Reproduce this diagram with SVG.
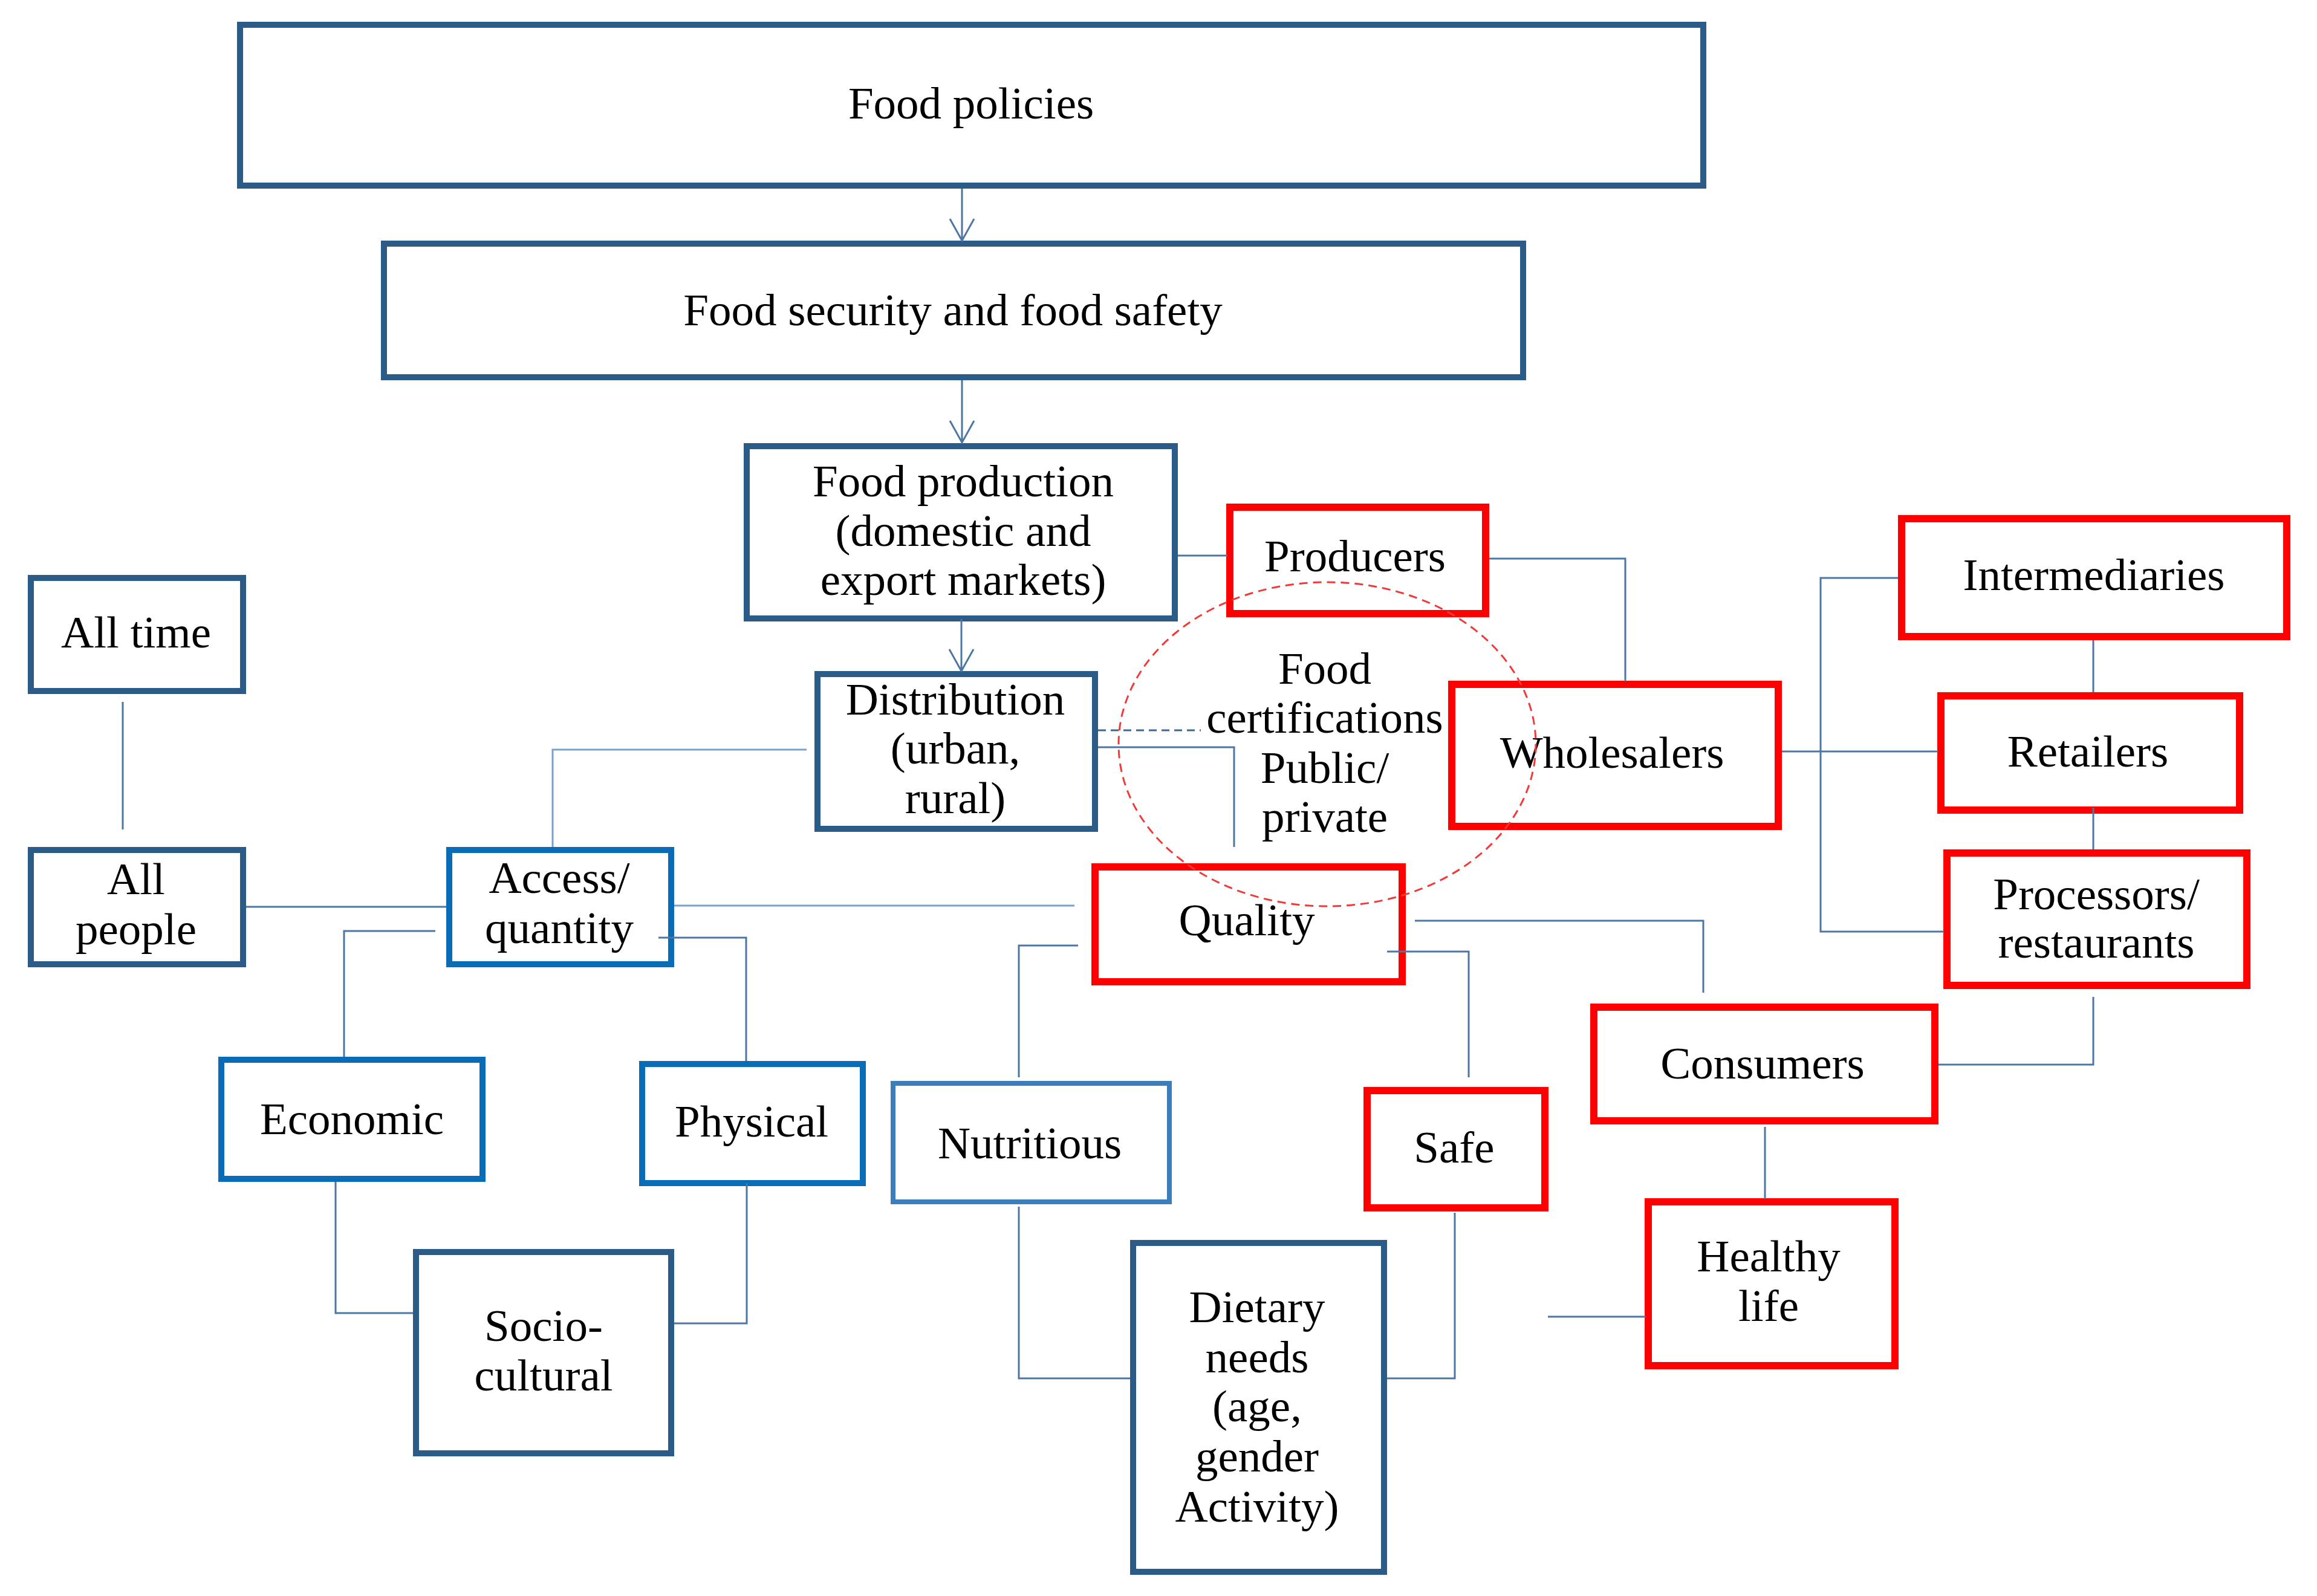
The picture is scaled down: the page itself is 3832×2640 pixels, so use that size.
<svg xmlns="http://www.w3.org/2000/svg" width="3832" height="2640" viewBox="0 0 3832 2640">
<style>
.bg{fill:#ffffff}
.nd{fill:#ffffff;stroke:#2b5b87;stroke-width:10}
.nb{fill:#ffffff;stroke:#0a6cb4;stroke-width:10}
.nm{fill:#ffffff;stroke:#3c7dbb;stroke-width:8}
.nr{fill:#ffffff;stroke:#ff0000;stroke-width:12}
text{font-family:"Liberation Serif","Times New Roman",serif;font-size:75px;fill:#000000;text-anchor:middle}
.c{fill:none;stroke:#4d76a2;stroke-width:3}
.cl{fill:none;stroke:#7aa2cc;stroke-width:3}
.dash{fill:none;stroke:#3e6892;stroke-width:3;stroke-dasharray:13 8}
.circ{fill:none;stroke:#f03a3a;stroke-width:3;stroke-dasharray:14 9}
</style>
<rect class="bg" x="0" y="0" width="3832" height="2640"/>

<g id="n-policies"><rect class="nd" x="397" y="41" width="2420" height="266"/><text x="1606" y="196">Food policies</text></g>
<g id="n-security"><rect class="nd" x="635" y="403" width="1884" height="221"/><text x="1576" y="538">Food security and food safety</text></g>
<g id="n-production"><rect class="nd" x="1235" y="738" width="708" height="285"/><text x="1593" y="821">Food production</text><text x="1593" y="903">(domestic and</text><text x="1593" y="984">export markets)</text></g>
<g id="n-distribution"><rect class="nd" x="1352" y="1115" width="459" height="256"/><text x="1580" y="1182">Distribution</text><text x="1580" y="1263">(urban,</text><text x="1580" y="1345">rural)</text></g>
<g id="n-producers"><rect class="nr" x="2034" y="839" width="423" height="176"/><text x="2241" y="945">Producers</text></g>
<g id="n-wholesalers"><rect class="nr" x="2401" y="1132" width="540" height="235"/><text x="2666" y="1270">Wholesalers</text></g>
<g id="n-intermediaries"><rect class="nr" x="3145" y="858" width="637" height="195"/><text x="3463" y="976">Intermediaries</text></g>
<g id="n-retailers"><rect class="nr" x="3210" y="1151" width="494" height="189"/><text x="3453" y="1268">Retailers</text></g>
<g id="n-processors"><rect class="nr" x="3220" y="1411" width="496" height="219"/><text x="3467" y="1504">Processors/</text><text x="3467" y="1584">restaurants</text></g>
<g id="n-consumers"><rect class="nr" x="2636" y="1666" width="564" height="188"/><text x="2915" y="1784">Consumers</text></g>
<g id="n-quality"><rect class="nr" x="1811" y="1434" width="508" height="190"/><text x="2062" y="1547">Quality</text></g>
<g id="n-safe"><rect class="nr" x="2261" y="1804" width="294" height="194"/><text x="2405" y="1923">Safe</text></g>
<g id="n-healthy"><rect class="nr" x="2726" y="1988" width="408" height="271"/><text x="2925" y="2103">Healthy</text><text x="2925" y="2185">life</text></g>
<g id="n-nutritious"><rect class="nm" x="1477" y="1792" width="457" height="196"/><text x="1703" y="1916">Nutritious</text></g>
<g id="n-dietary"><rect class="nd" x="1874" y="2056" width="415" height="544"/><text x="2079" y="2187">Dietary</text><text x="2079" y="2270">needs</text><text x="2079" y="2351">(age,</text><text x="2079" y="2434">gender</text><text x="2079" y="2517">Activity)</text></g>
<g id="n-alltime"><rect class="nd" x="51" y="956" width="351" height="187"/><text x="225" y="1071">All time</text></g>
<g id="n-allpeople"><rect class="nd" x="51" y="1406" width="351" height="189"/><text x="225" y="1479">All</text><text x="225" y="1562">people</text></g>
<g id="n-access"><rect class="nb" x="743" y="1406" width="367" height="189"/><text x="925" y="1477">Access/</text><text x="925" y="1560">quantity</text></g>
<g id="n-economic"><rect class="nb" x="366" y="1753" width="432" height="197"/><text x="582" y="1876">Economic</text></g>
<g id="n-physical"><rect class="nb" x="1062" y="1760" width="365" height="197"/><text x="1243" y="1880">Physical</text></g>
<g id="n-socio"><rect class="nd" x="688" y="2071" width="422" height="333"/><text x="899" y="2218">Socio-</text><text x="899" y="2300">cultural</text></g>
<g id="n-certifications"><text x="2191" y="1131">Food</text><text x="2191" y="1212">certifications</text><text x="2191" y="1295">Public/</text><text x="2191" y="1376">private</text></g>

<g id="connectors">
<path class="c" d="M1591 312V398M1571 362L1591 398L1611 362"/>
<path class="c" d="M1591 629V732M1571 696L1591 732L1611 696"/>
<path class="c" d="M1590 1024V1110M1570 1074L1590 1110L1610 1074"/>
<path class="c" d="M1948 919H2030"/>
<path class="c" d="M2463 924H2688V1127"/>
<path class="c" d="M2947 1243H3205"/>
<path class="c" d="M3139 956H3011V1541H3215"/>
<path class="c" d="M3462 1059V1145"/>
<path class="c" d="M3462 1336V1405"/>
<path class="c" d="M3462 1649V1761H3206"/>
<path class="c" d="M2340 1523H2817V1642"/>
<path class="c" d="M2919 1864V1983"/>
<path class="c" d="M2294 1574H2429V1782"/>
<path class="c" d="M1783 1564H1685V1782"/>
<path class="c" d="M1685 1996V2280H1869"/>
<path class="c" d="M2406 2006V2280H2294"/>
<path class="c" d="M2560 2178H2722"/>
<path class="c" d="M1816 1236H2041V1401"/>
<path class="dash" d="M1816 1208H1986"/>
<path class="cl" d="M1334 1240H914V1401"/>
<path class="cl" d="M1115 1498H1777"/>
<path class="c" d="M407 1500H738"/>
<path class="c" d="M203 1161V1372"/>
<path class="c" d="M720 1540H569V1748"/>
<path class="c" d="M1089 1551H1234V1755"/>
<path class="c" d="M555 1955V2172H683"/>
<path class="c" d="M1235 1957V2189H1115"/>
</g>

<ellipse id="cert-circle" class="circ" cx="2195" cy="1231" rx="345" ry="268"/>
</svg>
